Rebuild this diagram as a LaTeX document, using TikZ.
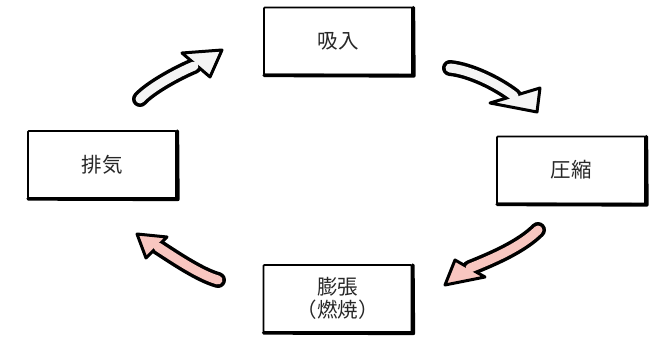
\documentclass[tikz,border=0pt]{standalone}
\usepackage{fontspec}
\newfontfamily\jp{Noto Sans CJK JP}
\definecolor{pinkfill}{RGB}{248,198,192}
\definecolor{whitefill}{RGB}{244,244,244}
\definecolor{inkgray}{RGB}{40,40,40}
\tikzset{
  stagebox/.style={draw=black, line width=1.7pt, fill=white, minimum width=148pt,
    minimum height=67pt, inner sep=0pt, align=center, font=\jp\fontsize{20.5pt}{23pt}\selectfont,
    text=inkgray, rounded corners=0.8pt},
  heavyedge/.style={line width=3.6pt, line cap=round, line join=round},
  shaftout/.style={line width=16pt, line cap=round, draw=black},
  shaftin/.style={line width=9pt, line cap=round},
  headtri/.style={line width=3pt, draw=black, line join=round}
}
\newcommand\cyclearrow[8]{%
  % #1 colour, #2 tail, #3 c1, #4 c2, #5 base, #6 corner a, #7 tip, #8 corner b
  \draw[shaftout] #2 .. controls #3 and #4 .. #5;
  \filldraw[headtri, fill=#1] #6 -- #7 -- #8 -- cycle;
  \draw[shaftin, draw=#1] #2 .. controls #3 and #4 .. #5;
}
\begin{document}
\begin{tikzpicture}[x=1pt,y=-1pt]
\useasboundingbox (0,0) rectangle (665,340);
\node[stagebox] (intake) at (338,41) {吸入};
\node[stagebox] (compress) at (571,170) {圧縮};
\node[stagebox] (exhaust) at (102,164.5) {排気};
\node[stagebox] (expand) at (337.5,298.5) {膨張\\（燃焼）};
\foreach \n in {intake,compress,exhaust,expand}{
  \draw[heavyedge] ([xshift=1pt]\n.south west) -- ([xshift=1pt,yshift=-0.5pt]\n.south east) -- ([xshift=0.5pt,yshift=-1pt]\n.north east);
}
% arrow 1: exhaust -> intake
\coordinate (a1t) at (140,99);
\coordinate (a1b) at (194,66);
\cyclearrow{whitefill}{(a1t)}{(150,88)}{(177,73)}{(a1b)}{(182,53)}{(222,50)}{(210,77)}
% arrow 2: intake -> compress
\coordinate (a2t) at (450,68);
\coordinate (a2b) at (514,96);
\cyclearrow{whitefill}{(a2t)}{(470,70)}{(497,83)}{(a2b)}{(540,88)}{(537,112)}{(490,103)}
% arrow 3: compress -> expand
\coordinate (a3t) at (538,230);
\coordinate (a3b) at (470,268);
\cyclearrow{pinkfill}{(a3t)}{(522,246)}{(495,258)}{(a3b)}{(455,260)}{(445,285)}{(485,277)}
% arrow 4: expand -> exhaust
\coordinate (a4t) at (218,280);
\coordinate (a4b) at (158,247);
\cyclearrow{pinkfill}{(a4t)}{(200,275)}{(175,258)}{(a4b)}{(167,237)}{(137,234)}{(146,258)}
\end{tikzpicture}
\end{document}
